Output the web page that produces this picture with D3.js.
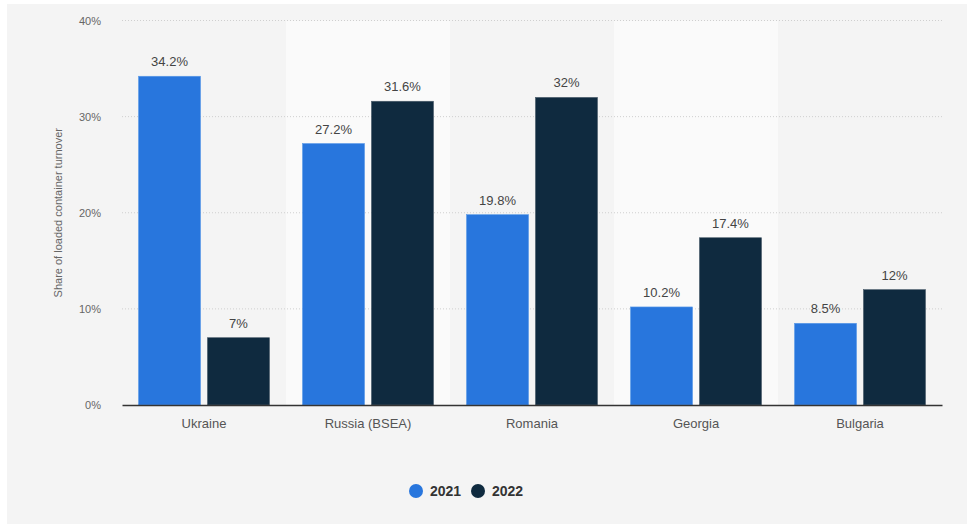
<!DOCTYPE html>
<html lang='en'>
<head>
    <meta charset='UTF-8'>
    <title>Share of loaded container turnover</title>
    <script src='https://d3js.org/d3.v7.min.js'></script>
    <style>
      body { margin: 0; background: #fff; }
      svg { display: block; font-family: 'Liberation Sans', Arial, sans-serif; }
    </style>
</head>
<body>
<svg id='chart' width='967' height='524'></svg>
<script>
    // values
    const countries = ['Ukraine', 'Russia (BSEA)', 'Romania', 'Georgia', 'Bulgaria']
    const years = ['2021', '2022']
    const values2021 = [34.2, 27.2, 19.8, 10.2, 8.5]
    const values2022 = [7, 31.6, 32, 17.4, 12]
    const yTicks = [0, 10, 20, 30, 40]
    const colors = ['#2876dd', '#0f2a3f']

    const rows = countries.map((c, i) => ({ country: c, v: [values2021[i], values2022[i]] }))

    const svg = d3.select('#chart')
    const plotLeft = 122, plotRight = 942, plotTop = 20.5, plotBottom = 405

    // grey page with thin white border top/left
    svg.append('rect').attr('x', 7).attr('y', 4).attr('width', 960).attr('height', 520).attr('fill', '#f4f4f4')

    const x = d3.scaleBand().domain(countries).range([plotLeft, plotRight])
    const xs = d3.scaleBand().domain(years).range([16.5, x.bandwidth() - 16.5]).paddingInner(0.1)
    const y = d3.scaleLinear().domain([0, 40]).range([plotBottom, plotTop])

    // alternating column bands
    svg.append('g').selectAll('rect')
      .data(countries.filter((d, i) => i % 2 === 1)).enter()
      .append('rect')
        .attr('x', d => x(d)).attr('y', plotTop).attr('width', x.bandwidth()).attr('height', plotBottom - plotTop)
        .attr('fill', '#fafafa')

    // dotted gridlines
    svg.append('g').selectAll('line')
      .data(yTicks.filter(t => t > 0)).enter()
      .append('line')
        .attr('x1', plotLeft).attr('x2', plotRight)
        .attr('y1', d => y(d)).attr('y2', d => y(d))
        .attr('stroke', '#cfcfcf').attr('stroke-dasharray', '1,2')

    // y axis labels
    const yAxis = d3.axisLeft(y).tickValues(yTicks).tickFormat(d => d + '%').tickSize(0).tickPadding(0)
    svg.append('g')
        .attr('transform', 'translate(101,0)')
        .call(yAxis)
        .call(g => g.select('.domain').remove())
        .selectAll('text')
          .attr('fill', '#666').style('font-size', '11px').style('font-family', "'Liberation Sans', Arial, sans-serif")

    svg.append('text')
        .attr('transform', `translate(62,${(plotTop + plotBottom) / 2}) rotate(-90)`)
        .attr('text-anchor', 'middle')
        .attr('fill', '#666').style('font-size', '11px')
        .text('Share of loaded container turnover')

    // bars
    const groups = svg.append('g').selectAll('g')
      .data(rows).enter()
      .append('g')
        .attr('transform', d => `translate(${x(d.country)},0)`)

    groups.selectAll('rect')
      .data(d => d.v.map((v, i) => ({ year: years[i], v, i }))).enter()
      .append('rect')
        .attr('x', d => xs(d.year)).attr('width', xs.bandwidth())
        .attr('y', d => y(d.v)).attr('height', d => plotBottom - y(d.v))
        .attr('fill', d => colors[d.i])
        .attr('stroke', d => d.i === 0 ? '#5b9be8' : '#4a5b6a').attr('stroke-width', 0.6)

    groups.selectAll('text')
      .data(d => d.v.map((v, i) => ({ year: years[i], v, i }))).enter()
      .append('text')
        .attr('x', d => xs(d.year) + xs.bandwidth() / 2)
        .attr('y', d => y(d.v) - 10)
        .attr('text-anchor', 'middle')
        .attr('fill', '#444').style('font-size', '13px')
        .text(d => d.v + '%')

    // x axis
    const xAxis = d3.axisBottom(x).tickSize(0).tickPadding(14)
    svg.append('g')
        .attr('transform', `translate(0,${plotBottom})`)
        .call(xAxis)
        .call(g => g.select('.domain').attr('stroke', '#333').attr('stroke-width', 1.5))
        .selectAll('text')
          .attr('fill', '#555').style('font-size', '13px').style('font-family', "'Liberation Sans', Arial, sans-serif")

    // legend
    const legend = svg.append('g').attr('transform', 'translate(416,491)')
    const items = legend.selectAll('g').data(years).enter()
      .append('g').attr('transform', (d, i) => `translate(${i * 62},0)`)
    items.append('circle').attr('r', 7).attr('fill', (d, i) => colors[i])
    items.append('text')
        .attr('x', 14).attr('dy', '0.35em')
        .attr('fill', '#333').style('font-size', '14px').style('font-weight', 'bold')
        .text(d => d)
</script>
</body>
</html>
